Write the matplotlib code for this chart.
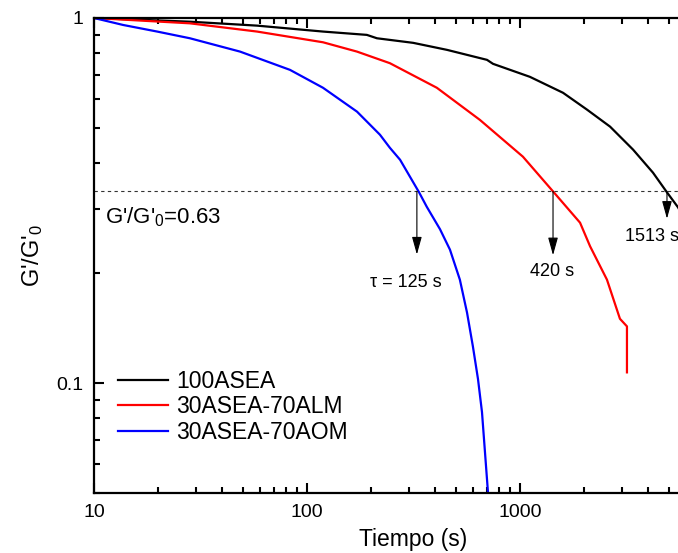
import numpy as np
import matplotlib.pyplot as plt
from matplotlib.ticker import FixedLocator, NullFormatter, FuncFormatter, LogLocator

plt.rcParams['font.family'] = ['Liberation Sans', 'DejaVu Sans']
plt.rcParams['mathtext.fontset'] = 'custom'
plt.rcParams['mathtext.rm'] = 'Liberation Sans'
plt.rcParams['mathtext.it'] = 'Liberation Sans:italic'

# 100ASEA
t_asea = [10, 28.2, 58.3, 118.9, 191, 213, 315, 454, 700, 747, 1113, 1592, 2064, 2648, 3395, 4211, 4898, 5520, 6285]
g_asea = [1.0, 0.977, 0.953, 0.918, 0.899, 0.880, 0.855, 0.818, 0.768, 0.749, 0.690, 0.624, 0.561, 0.504, 0.436, 0.377, 0.333, 0.303, 0.264]
# 30ASEA-70ALM
t_alm = [10, 28.2, 58.3, 118.9, 171.7, 245, 407, 648, 1032, 1429, 1914, 2133, 2560, 2946, 3178, 3178]
g_alm = [1.0, 0.967, 0.918, 0.858, 0.809, 0.752, 0.644, 0.526, 0.417, 0.335, 0.275, 0.237, 0.192, 0.150, 0.143, 0.107]
# 30ASEA-70AOM
t_aom = [10, 13.7, 19.8, 28.2, 48.5, 83.2, 118.9, 171.7, 220, 245, 273.5, 335.9, 365, 421, 469, 522, 564, 601, 635, 663, 707]
g_aom = [1.0, 0.957, 0.918, 0.880, 0.809, 0.721, 0.644, 0.554, 0.479, 0.441, 0.409, 0.333, 0.304, 0.264, 0.232, 0.192, 0.156, 0.126, 0.1026, 0.0833, 0.0504]

g_ref = 0.335
tau_t = [328, 1429, 4898]
tau_tip = [0.225, 0.224, 0.282]

fig = plt.figure(figsize=(6.78, 5.53), dpi=100)
ax = fig.add_axes([94/678, 60/553, 639/678, 475/553])

ax.plot(t_asea, g_asea, color='black', lw=1.6, label='100ASEA')
ax.plot(t_alm, g_alm, color='red', lw=1.6, label='30ASEA-70ALM')
ax.plot(t_aom, g_aom, color='blue', lw=1.6, label='30ASEA-70AOM')

ax.axhline(g_ref, color='#333333', lw=0.8, dashes=(3, 3))
for x, yt in zip(tau_t, tau_tip):
    ax.annotate('', xy=(x, yt), xytext=(x, g_ref),
                arrowprops=dict(arrowstyle='-|>,head_width=0.25,head_length=0.9',
                                color='black', lw=0.8, mutation_scale=12,
                                shrinkA=0, shrinkB=0))

ax.text(290, 0.189, 'τ = 125 s', fontsize=13, ha='center', va='center')
ax.text(1416, 0.202, '420 s', fontsize=13, ha='center', va='center')
ax.text(3112, 0.252, '1513 s', fontsize=13, ha='left', va='center')
ax.text(11.26, 0.274, "G'/G'$_\\mathrm{0}$=0.63", fontsize=16, ha='left', va='baseline')

ax.set_xscale('log')
ax.set_yscale('log')
ax.set_xlim(10, 10000)
ax.set_ylim(0.05, 1)

ax.xaxis.set_major_locator(FixedLocator([10, 100, 1000]))
ax.xaxis.set_major_formatter(FuncFormatter(lambda v, p: '%g' % v))
ax.xaxis.set_minor_locator(LogLocator(base=10, subs=np.arange(2, 10)))
ax.xaxis.set_minor_formatter(NullFormatter())
ax.yaxis.set_major_locator(FixedLocator([0.1, 1]))
ax.yaxis.set_major_formatter(FuncFormatter(lambda v, p: '%g' % v))
ax.yaxis.set_minor_locator(LogLocator(base=10, subs=np.arange(2, 10)))
ax.yaxis.set_minor_formatter(NullFormatter())

ax.tick_params(which='both', direction='in', top=True, right=True, width=1.5)
ax.tick_params(which='major', length=7, labelsize=14, pad=8)
ax.tick_params(which='minor', length=4)
for s in ax.spines.values():
    s.set_linewidth(1.6)

ax.set_xlabel('Tiempo (s)', fontsize=16.5, labelpad=5)
ax.set_ylabel("G'/G'$_\\mathrm{0}$", fontsize=17, labelpad=8)

ax.legend(loc='upper left', bbox_to_anchor=(24/639, (493-370)/475), frameon=False,
          fontsize=16.5, handlelength=2.2, handletextpad=0.35, labelspacing=0.1,
          borderpad=0, borderaxespad=0)

fig.savefig('out.png', dpi=100)
